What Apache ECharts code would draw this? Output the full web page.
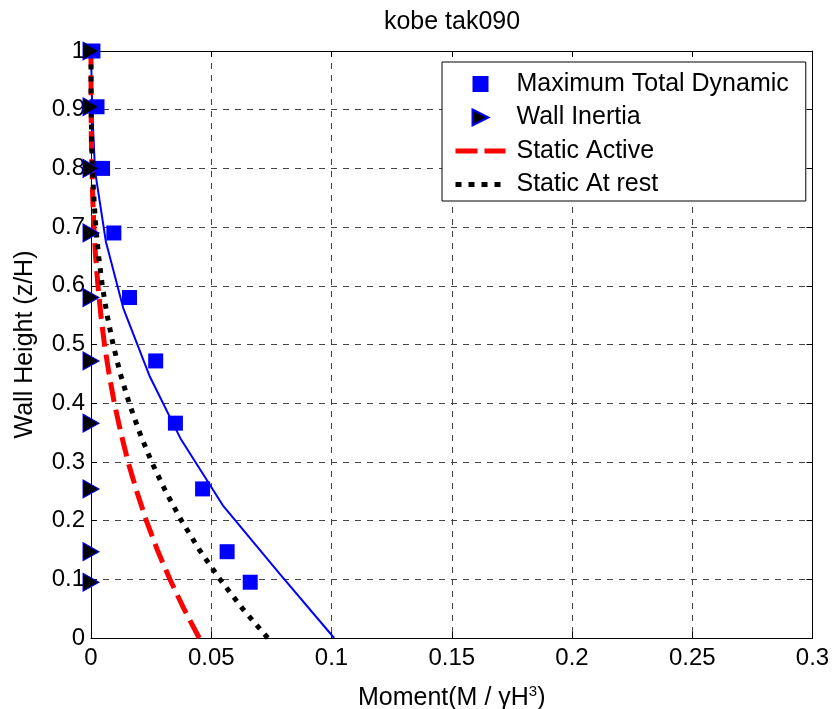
<!DOCTYPE html>
<html>
<head>
<meta charset="utf-8">
<script src="https://cdn.jsdelivr.net/npm/echarts@6/dist/echarts.min.js"></script>
<style>
html,body{margin:0;padding:0;background:#fff;}
#chart{width:836px;height:709px;}
</style>
</head>
<body>
<div id="chart"></div>
<script>
// Marker heights (z/H) and moments
const zLevels = [1.0, 0.905, 0.8, 0.69, 0.58, 0.472, 0.366, 0.254, 0.147, 0.095];
const dynamicMoment = [0.0008, 0.0025, 0.0048, 0.0095, 0.016, 0.0269, 0.0351, 0.0464, 0.0566, 0.0662];
const inertiaMoment = [0, 0, 0, 0, 0, 0, 0, 0, 0, 0];

// Blue solid curve
const dynLineZ = [1.0, 0.9, 0.795, 0.675, 0.562, 0.445, 0.34, 0.226, 0.11, 0];
const dynLineM = [0, 0.0005, 0.0017, 0.0062, 0.0134, 0.0245, 0.0372, 0.0548, 0.0783, 0.1011];

// Static curves
const staticZ = [0, 0.05, 0.1, 0.15, 0.2, 0.25, 0.3, 0.35, 0.4, 0.45, 0.5, 0.55, 0.6, 0.65, 0.7, 0.75, 0.8, 0.85, 0.9, 0.95, 1.0];
const activeM = [0.0450, 0.0386, 0.0328, 0.0276, 0.0230, 0.0190, 0.0154, 0.0124, 0.0097, 0.0075, 0.0056, 0.0041, 0.0029, 0.0019, 0.0012, 0.0007, 0.0004, 0.00015, 0.00005, 0.00001, 0];
const restM = [0.0735, 0.0630, 0.0536, 0.0451, 0.0376, 0.0310, 0.0252, 0.0202, 0.0159, 0.0122, 0.0092, 0.0067, 0.0047, 0.0032, 0.0020, 0.0012, 0.0006, 0.00025, 0.00007, 0.00001, 0];

// Tick settings
const xTicks = {min: 0, max: 0.3, interval: 0.05};
const yTicks = {min: 0, max: 1, interval: 0.1};

const FONT = '"Liberation Sans", Arial, Helvetica, sans-serif';
const pairs = (xs, ys) => xs.map((x, i) => [x, ys[i]]);

const chart = echarts.init(document.getElementById('chart'), null, {renderer: 'canvas'});

const gridLine = {show: true, lineStyle: {color: '#444', type: [6, 6], width: 1}};
const hiddenSymbol = {opacity: 0};

const option = {
  backgroundColor: '#fff',
  animation: false,
  title: {
    text: 'kobe tak090',
    left: 452,
    textAlign: 'center',
    top: 10,
    padding: 0,
    textStyle: {fontFamily: FONT, fontSize: 25, fontWeight: 'normal', color: '#000'}
  },
  grid: {left: 91, right: 23.5, top: 51, bottom: 71, containLabel: false, outerBoundsMode: 'none'},
  legend: {
    orient: 'vertical',
    left: 442,
    top: 62,
    data: [
      {name: 'Maximum Total Dynamic', icon: 'path://M0,0L10,0L10,10L0,10Z'},
      {name: 'Wall Inertia', icon: 'path://M0,0L16,8L0,16Z', symbolRotate: 0},
      {name: 'Static Active', itemStyle: hiddenSymbol, lineStyle: {width: 5, type: [22, 7], cap: 'butt'}},
      {name: 'Static At rest', itemStyle: hiddenSymbol, lineStyle: {width: 5, type: [6, 7], cap: 'butt'}}
    ],
    itemWidth: 50,
    itemHeight: 16,
    itemGap: 8.5,
    padding: [9.5, 17, 4, 11],
    backgroundColor: '#fff',
    borderColor: '#000',
    borderWidth: 1,
    borderRadius: 0,
    textStyle: {fontFamily: FONT, fontSize: 25, color: '#000', padding: [0, 0, 0, 6]}
  },
  xAxis: [{
    type: 'value',
    min: xTicks.min, max: xTicks.max, interval: xTicks.interval,
    position: 'bottom',
    name: '{t|Moment(M / γH}{sup|3}{t|)}',
    nameLocation: 'middle',
    nameGap: 46,
    nameTextStyle: {
      color: '#000',
      rich: {
        t: {fontFamily: FONT, fontSize: 25, color: '#000'},
        sup: {fontFamily: FONT, fontSize: 15, color: '#000', padding: [0, 0, 13, 0]}
      }
    },
    axisLine: {show: true, onZero: false, lineStyle: {color: '#000', width: 1}},
    axisTick: {show: true, inside: true, length: 6, lineStyle: {color: '#000'}},
    axisLabel: {fontFamily: FONT, fontSize: 24, color: '#000', margin: 8},
    splitLine: gridLine
  }, {
    type: 'value',
    min: xTicks.min, max: xTicks.max, interval: xTicks.interval,
    position: 'top',
    axisLine: {show: true, onZero: false, lineStyle: {color: '#000', width: 1}},
    axisTick: {show: true, inside: true, length: 6, lineStyle: {color: '#000'}},
    axisLabel: {show: false},
    splitLine: {show: false}
  }],
  yAxis: [{
    type: 'value',
    min: yTicks.min, max: yTicks.max, interval: yTicks.interval,
    position: 'left',
    name: 'Wall Height (z/H)',
    nameLocation: 'middle',
    nameGap: 53,
    nameTextStyle: {fontFamily: FONT, fontSize: 25, color: '#000'},
    axisLine: {show: true, onZero: false, lineStyle: {color: '#000', width: 1}},
    axisTick: {show: true, inside: true, length: 6, lineStyle: {color: '#000'}},
    axisLabel: {fontFamily: FONT, fontSize: 24, color: '#000', margin: 6},
    splitLine: gridLine
  }, {
    type: 'value',
    min: yTicks.min, max: yTicks.max, interval: yTicks.interval,
    position: 'right',
    axisLine: {show: true, onZero: false, lineStyle: {color: '#000', width: 1}},
    axisTick: {show: true, inside: true, length: 6, lineStyle: {color: '#000'}},
    axisLabel: {show: false},
    splitLine: {show: false}
  }],
  series: [
    {
      name: 'Dynamic curve',
      type: 'line',
      data: pairs(dynLineM, dynLineZ),
      symbol: 'none',
      lineStyle: {color: '#0000ff', width: 2},
      z: 2
    },
    {
      name: 'Static Active',
      type: 'line',
      data: pairs(activeM, staticZ),
      symbol: 'none',
      itemStyle: {color: '#ff0000'},
      lineStyle: {color: '#ff0000', width: 5, type: [20, 8], cap: 'butt'},
      z: 3
    },
    {
      name: 'Static At rest',
      type: 'line',
      data: pairs(restM, staticZ),
      symbol: 'none',
      itemStyle: {color: '#000'},
      lineStyle: {color: '#000', width: 5, type: [5, 7], cap: 'butt'},
      z: 4
    },
    {
      name: 'Maximum Total Dynamic',
      type: 'scatter',
      data: pairs(dynamicMoment, zLevels),
      symbol: 'rect',
      symbolSize: 15,
      itemStyle: {color: '#0000ff', opacity: 1},
      z: 5
    },
    {
      name: 'Wall Inertia',
      type: 'scatter',
      data: pairs(inertiaMoment, zLevels),
      symbol: 'triangle',
      symbolSize: [18, 16],
      symbolRotate: -90,
      itemStyle: {color: '#000', borderColor: '#0000ff', borderWidth: 1, opacity: 1},
      z: 6
    }
  ]
};

chart.setOption(option);
</script>
</body>
</html>
